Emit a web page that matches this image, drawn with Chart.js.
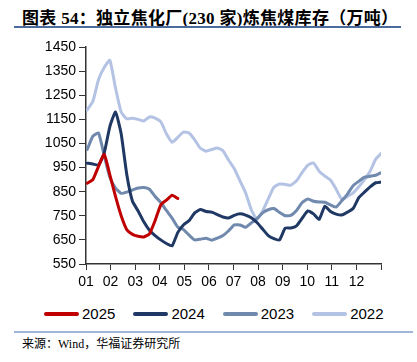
<!DOCTYPE html>
<html>
<head>
<meta charset="utf-8">
<script src="https://cdn.jsdelivr.net/npm/chart.js@4"></script>
<style>
  html, body { margin: 0; padding: 0; background: #fff; }
  body { width: 417px; height: 362px; position: relative; overflow: hidden; }
  #title { position: absolute; left: 22px; top: 4px; font: bold 17px "Liberation Serif", "Noto Sans CJK SC", serif; letter-spacing: 0.3px; color: #000; white-space: nowrap; }
  #tline { position: absolute; left: 14px; top: 26px; width: 387px; height: 2px; background: #4a6b9c; }
  #wrap { position: absolute; left: 0; top: 0; width: 417px; height: 300px; }
  #legend { position: absolute; top: 305px; left: 44px; display: flex; font: 15px "Liberation Sans", Arial, sans-serif; color: #000; }
  #legend span { display: flex; align-items: center; margin-right: 18px; }
  #legend i { display: inline-block; width: 35px; height: 4px; border-radius: 2px; margin-right: 3px; }
  #bline { position: absolute; left: 14px; top: 331px; width: 399px; height: 2px; background: #9fb6d8; }
  #src { position: absolute; left: 22px; top: 334px; font: 12px "Liberation Serif", "Noto Sans CJK SC", serif; color: #000; white-space: nowrap; }
</style>
</head>
<body>
<div id="title">图表 54：独立焦化厂(230 家)炼焦煤库存（万吨）</div>
<div id="tline"></div>
<div id="wrap"><canvas id="c"></canvas></div>
<div id="legend"></div>
<div id="bline"></div>
<div id="src">来源：Wind，华福证券研究所</div>
<script>
// ── Data (weekly, 万吨) ──
const monthLabels = ['01','02','03','04','05','06','07','08','09','10','11','12'];
const seriesNames = ['2025', '2024', '2023', '2022'];
const seriesColors = ['#c00000', '#1f3864', '#7089ad', '#b4c3e4'];

const s2025 = [885, 900, 955, 1005, 920, 830, 750, 692, 673, 665, 662, 675, 730, 795, 815, 835, 822];
const s2024 = [968, 965, 960, 1010, 1120, 1180, 1090, 920, 810, 770, 725, 690, 668, 650, 635, 625, 680, 712, 730, 762,
  776, 768, 765, 755, 745, 741, 752, 758, 753, 742, 722, 695, 668, 655, 650, 699, 699, 708, 740, 770,
  758, 735, 790, 768, 757, 753, 765, 780, 825, 848, 870, 887, 890];
const s2023 = [1025, 1080, 1093, 1000, 910, 865, 843, 848, 857, 865, 867, 860, 830, 805, 772, 740, 703, 693, 670, 650,
  653, 657, 649, 657, 668, 688, 712, 712, 702, 720, 738, 762, 775, 780, 764, 750, 752, 772, 805, 820,
  810, 807, 806, 795, 786, 812, 840, 875, 893, 910, 914, 918, 929];
const s2022 = [1189, 1225, 1315, 1365, 1395, 1280, 1180, 1152, 1155, 1150, 1143, 1160, 1155, 1140, 1090, 1055, 1075, 1097, 1093, 1065,
  1030, 1018, 1025, 1031, 1020, 980, 945, 895, 845, 775, 735, 770, 820, 869, 882, 880, 877, 895, 930, 960,
  969, 935, 915, 898, 860, 818, 830, 845, 870, 900, 935, 985, 1010];

const yMin = 550, yMax = 1450, yStep = 100;

// week index -> month position on a 0..12 axis
const toPts = arr => arr.map((v, k) => ({ x: (7 * k + 1.5) * 12 / 365, y: v }));
const allSeries = [s2025, s2024, s2023, s2022];

document.getElementById('legend').innerHTML = seriesNames.map((n, i) =>
  `<span><i style="background:${seriesColors[i]}"></i>${n}</span>`).join('');

const tickFont = { family: '"Liberation Sans", Arial, sans-serif', size: 14 };

new Chart(document.getElementById('c').getContext('2d'), {
  type: 'line',
  data: {
    datasets: allSeries.map((s, i) => ({
      label: seriesNames[i], data: toPts(s), borderColor: seriesColors[i], backgroundColor: seriesColors[i],
      borderWidth: 3, pointRadius: 0, tension: 0.15, fill: false, order: i, borderJoinStyle: 'round', borderCapStyle: 'round'
    }))
  },
  options: {
    responsive: true, maintainAspectRatio: false, animation: false,
    layout: { padding: { top: 47, right: 36, bottom: 6, left: 0 } },
    plugins: { legend: { display: false }, tooltip: { enabled: false } },
    scales: {
      x: {
        type: 'linear', min: 0, max: 12,
        afterFit: s => { s.height = 30; },
        ticks: { stepSize: 1, autoSkip: false, maxRotation: 0, padding: 4, color: '#000', font: tickFont,
          callback: v => monthLabels[v] || '' },
        grid: { drawOnChartArea: false, drawTicks: true, tickLength: 6, color: '#333', lineWidth: 1 },
        border: { display: true, color: '#333', width: 1.5 }
      },
      y: {
        min: yMin, max: yMax,
        afterFit: s => { s.width = 86; },
        ticks: { stepSize: yStep, padding: 3, color: '#000', font: tickFont, callback: v => String(v) },
        grid: { drawOnChartArea: false, drawTicks: true, tickLength: 7, color: '#333', lineWidth: 1 },
        border: { display: true, color: '#333', width: 1.5 }
      }
    }
  }
});
</script>
</body>
</html>
